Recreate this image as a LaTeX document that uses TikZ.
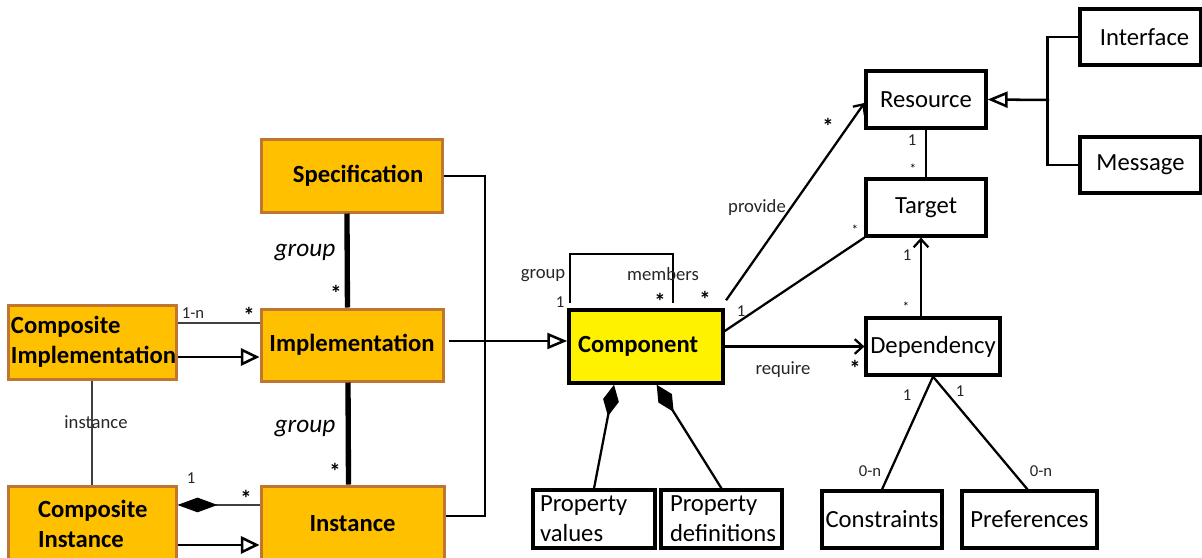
\documentclass[tikz,border=0pt]{standalone}
\usepackage{fontspec}
\setmainfont{Carlito}
\usetikzlibrary{arrows.meta}
\definecolor{orfill}{RGB}{255,192,0}
\definecolor{ordraw}{RGB}{190,118,48}
\begin{document}
\begin{tikzpicture}[x=0.75pt,y=-0.75pt,
  obox/.style={draw=ordraw, fill=orfill, line width=2.25pt, font=\fontsize{18.5}{22.5}\selectfont\bfseries, inner sep=0pt},
  wbox/.style={draw=black, fill=white, line width=2.4pt, font=\fontsize{18.5}{22.5}\selectfont, inner sep=0pt},
  ybox/.style={draw=black, fill=yellow, line width=2.6pt, font=\fontsize{18.5}{22.5}\selectfont\bfseries, inner sep=0pt},
  conn/.style={line width=1.7pt},
  thinconn/.style={line width=0.8pt, black!75},
  grp/.style={line width=4pt},
  gen/.style={line width=1.9pt, -{Triangle[open, length=14pt, width=13pt]}},
  nav/.style={line width=1.7pt, -{Straight Barb[length=6pt, width=11pt]}},
  lbig/.style={inner sep=0pt, font=\fontsize{19}{19}\selectfont\itshape},
  lmid/.style={inner sep=0pt, font=\fontsize{14}{14}\selectfont, text=black!85},
  lsm/.style={inner sep=0pt, font=\fontsize{12.5}{12.5}\selectfont, text=black!85},
  star/.style={inner sep=0pt, font=\fontsize{17}{17}\selectfont\bfseries},
  sstar/.style={inner sep=0pt, font=\fontsize{10}{10}\selectfont},
]
\useasboundingbox (0,0) rectangle (1202,557);
\clip (0,0) rectangle (1202,557);

% orange boxes
\node[obox, minimum width=135.75pt, minimum height=54.75pt] (spec) at (351.5,175.5) {\hspace*{10pt}Specification};
\node[obox, minimum width=136.5pt, minimum height=54pt] (impl) at (352,345) {Implementation};
\node[obox, minimum width=137.25pt, minimum height=56.25pt] (inst) at (352.5,523.5) {Instance};
\node[obox, minimum width=126pt, minimum height=55.5pt, text width=121.5pt, align=left] (cimpl) at (92,342) {Composite\\Implementation};
\node[obox, minimum width=126pt, minimum height=56.25pt, text width=81pt, align=left] (cinst) at (92,523.5) {Composite\\Instance};

% component
\node[ybox, minimum width=115.5pt, minimum height=54.75pt, text width=102pt, align=left] (comp) at (646,346.5) {Component};

% white boxes
\node[wbox, minimum width=90pt, minimum height=42.75pt] (res) at (926,99.5) {Resource};
\node[wbox, minimum width=90pt, minimum height=42.75pt] (tgt) at (926,207.5) {Target};
\node[wbox, minimum width=100.5pt, minimum height=42.75pt] (dep) at (933,346.5) {Dependency};
\node[wbox, minimum width=90.75pt, minimum height=42pt] (intf) at (1140.5,37) {\hspace*{6pt}Interface};
\node[wbox, minimum width=90.75pt, minimum height=42pt] (msg) at (1140.5,165) {Message};
\node[wbox, minimum width=91.5pt, minimum height=43.5pt, text width=81pt, align=left] (pv) at (594,519) {Property\\values};
\node[wbox, minimum width=90.75pt, minimum height=43.5pt, text width=77.25pt, align=left] (pd) at (721.5,519) {Property\\definitions};
\node[wbox, minimum width=90pt, minimum height=42.75pt] (cons) at (882,519.5) {Constraints};
\node[wbox, minimum width=101.25pt, minimum height=42.75pt] (pref) at (1029.5,519.5) {Preferences};

% group lines
\draw[grp] ([xshift=-3.4pt]spec.south) -- ([xshift=-3.4pt]impl.north);
\draw[grp] ([xshift=-3pt]impl.south) -- ([xshift=-3pt]inst.north);
\node[lbig] (g1) at (305,253) {group};
\node[lbig] (g2) at (305,429) {group};
\node[star] (s1) at (336,293) {*};
\node[star] (s2) at (335,471) {*};

% bracket spec/inst
\draw[line width=1.5pt] (spec.east) -- ++(41,0) |- ([yshift=5.6pt]inst.east);
% impl -> component
\draw[line width=1.9pt, -{Triangle[open, length=15pt, width=12pt]}] ([yshift=3pt,xshift=3pt]impl.east) -- ([yshift=3pt]impl.east -| comp.west);

% composite impl -> impl
\draw[thinconn] ([yshift=14.25pt]cimpl.east) -- ([yshift=14.25pt]cimpl.east -| impl.west);
\node[lsm] (l1n) at (193,313) {1-n};
\node[star] (s3) at (249,315) {*};
\draw[gen] ([yshift=-11.25pt]cimpl.east) -- ([yshift=-11.25pt]cimpl.east -| impl.west);

% composite impl - composite inst
\draw[thinconn] (cimpl.south) -- (cinst.north);
\node[lmid] (linst) at (96,422) {instance};

% composite inst - inst
\draw[thinconn, {Diamond[length=30pt, width=11pt, black]}-] ([yshift=13.9pt]cinst.east) -- ([yshift=13.9pt]cinst.east -| inst.west);
\node[lsm] (l1a) at (191,478) {1};
\node[star] (s4) at (246,498) {*};
\draw[gen] ([yshift=-16.1pt]cinst.east) -- ([yshift=-16.1pt]cinst.east -| inst.west);

% component self loop
\draw[line width=1.7pt] ([xshift=2.25pt,yshift=3.75pt]comp.north west) -- ++(0,-49) -| ([xshift=20.25pt,yshift=3.75pt]comp.north);
\node[lmid] (lgrp) at (543,276) {group};
\node[lsm] (l1b) at (560,302) {1};
\node[lmid] (lmem) at (663,274) {members};
\node[star] (s5) at (660,301) {*};

% component -> resource
\draw[nav] ([xshift=1pt,yshift=6pt]comp.north east) -- ([yshift=-2.6pt]res.west);
\node[star] (s6) at (705,299) {*};
\node[star] (s7) at (828,126) {*};
\node[lmid] (lprov) at (757,208) {provide};

% component - target
\draw[conn] ([yshift=11.6pt]comp.east) -- (tgt.south west);
\node[lsm] (l1c) at (741,311) {1};
\node[sstar] (s8) at (855,230) {*};

% component -> dependency
\draw[nav] (comp.east) -- (dep.west);
\node[lmid] (lreq) at (783,370) {require};
\node[star] (s9) at (855,368) {*};

% resource - target
\draw[conn] (res.south) -- (tgt.north);
\node[lsm] (l1d) at (912,140) {1};
\node[sstar] (s10) at (913,169) {*};

% dependency -> target
\draw[nav] ([xshift=-9pt]dep.north) -- ([xshift=-3.75pt]tgt.south);
\node[lsm] (l1e) at (907,255) {1};
\node[sstar] (s11) at (906,307) {*};

% interface/message -> resource
\coordinate (bus) at (1049,100);
\draw[line width=1.7pt] (intf.west) -- ++(-31,0) |- (msg.west);
\draw[line width=1.9pt, -{Triangle[open, length=15pt, width=12pt]}] (bus) -- (res.east);

% dependency - constraints / preferences
\draw[conn] (dep.south) -- (cons.north);
\draw[conn] (dep.south) -- ([xshift=-1.5pt]pref.north);
\node[lsm] (l1f) at (907,395) {1};
\node[lsm] (l0a) at (870,471) {0-n};
\node[lsm] (l1g) at (960,391) {1};
\node[lsm] (l0b) at (1041,471) {0-n};

% composition to properties
\draw[conn, {Diamond[length=24pt, width=12pt, black]}-] ([xshift=-24pt]comp.south) -- (pv.north);
\draw[conn, {Diamond[length=24pt, width=12pt, black]}-] ([xshift=8pt]comp.south) -- (pd.north);
\end{tikzpicture}
\end{document}
